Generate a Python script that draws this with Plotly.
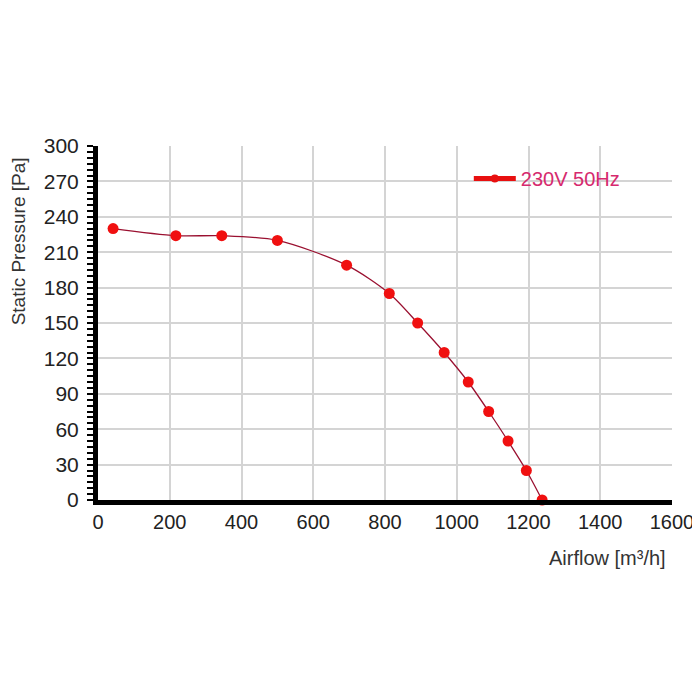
import plotly.graph_objects as go

airflow = [42, 217, 345, 500, 693, 812, 891, 965, 1032, 1089, 1143, 1194, 1238]
pressure = [230, 224, 224, 220, 199, 175, 150, 125, 100, 75, 50, 25, 0]
series_name = "230V 50Hz"
x_ticks = [0, 200, 400, 600, 800, 1000, 1200, 1400, 1600]
y_ticks = [0, 30, 60, 90, 120, 150, 180, 210, 240, 270, 300]

fig = go.Figure()
fig.add_trace(go.Scatter(
    x=airflow, y=pressure, mode="lines+markers",
    line=dict(shape="spline", smoothing=0.8, color="#9a1030", width=1.3),
    marker=dict(color="#f01010", size=11),
    showlegend=False, cliponaxis=False,
))
fig.add_trace(go.Scatter(
    x=[None], y=[None], mode="lines+markers", name=series_name,
    line=dict(color="#e81010", width=5),
    marker=dict(color="#e81010", size=8),
))

font = "Liberation Sans, Arial, sans-serif"
fig.update_layout(
    width=700, height=700,
    margin=dict(l=90, r=36, t=138, b=208),
    paper_bgcolor="white", plot_bgcolor="white",
    font=dict(family=font, color="#222"),
    legend=dict(x=0.646, y=0.908, xanchor="left", yanchor="middle",
                font=dict(size=20, color="#d62a6e"), bgcolor="rgba(0,0,0,0)",
                itemwidth=42, tracegroupgap=0),
    xaxis=dict(range=[0, 1600], tickvals=x_ticks, showgrid=True,
               gridcolor="#d4d4d4", gridwidth=1.5, showline=True, linecolor="black",
               linewidth=5, ticks="", tickfont=dict(size=20, color="#222"),
               zeroline=False, fixedrange=True),
    yaxis=dict(range=[0, 300], tickvals=y_ticks, showgrid=True,
               gridcolor="#d4d4d4", gridwidth=1.5, showline=True, linecolor="black",
               linewidth=5, ticks="outside", ticklen=6, tickwidth=2, tickcolor="black",
               ticklabelstandoff=4,
               minor=dict(dtick=5, ticks="outside", ticklen=6, tickwidth=2,
                          tickcolor="black", showgrid=False),
               tickfont=dict(size=21, color="#222"), zeroline=False, fixedrange=True),
    annotations=[
        dict(text="Static Pressure [Pa]", xref="paper", yref="paper",
             x=-0.138, y=0.73, textangle=-90, showarrow=False,
             xanchor="center", yanchor="middle", font=dict(size=19, color="#333")),
        dict(text="Airflow [m³/h]", xref="paper", yref="paper",
             x=0.993, y=-0.165, showarrow=False, xanchor="right", yanchor="middle",
             font=dict(size=20, color="#333")),
    ],
)
fig.write_html("out.html")
